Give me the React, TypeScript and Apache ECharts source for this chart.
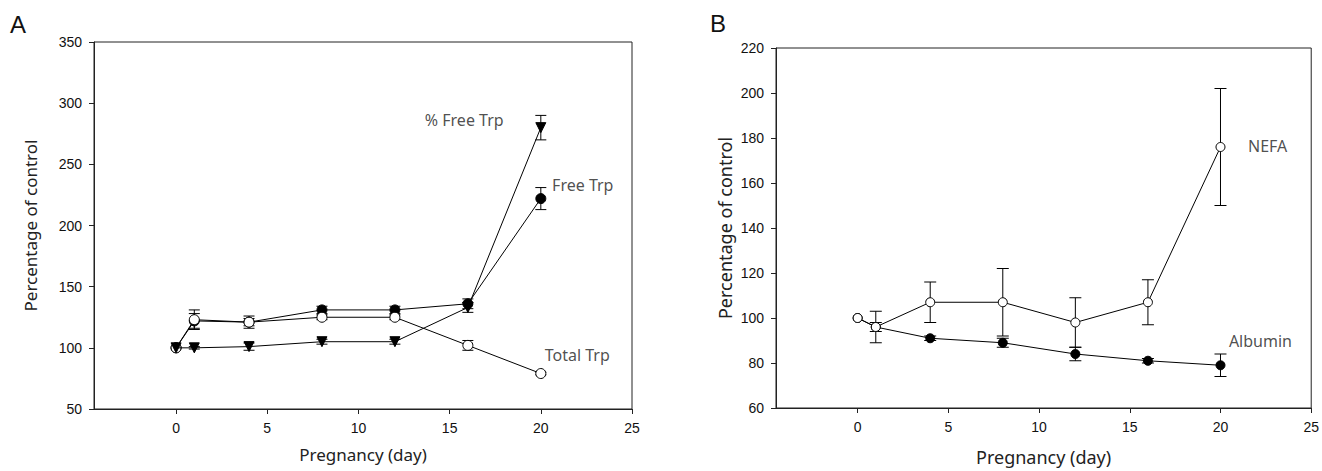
import React, { useEffect, useRef } from "react";
import * as echarts from "echarts";

// ---------- Panel A data ----------
const daysA = [0, 1, 4, 8, 12, 16, 20];
const freeTrp = [100, 122, 121, 131, 131, 136, 222];
const freeTrpErr = [0, 6, 3, 3, 3, 4, 9];
const totalTrp = [100, 123, 121, 125, 125, 102, 79];
const totalTrpErr = [0, 8, 5, 2, 2, 4, 1];
const pctFreeTrp = [100, 100, 101, 105, 105, 133, 280];
const pctFreeTrpErr = [0, 1, 3, 2, 2, 4, 10];

// ---------- Panel B data ----------
const daysB = [0, 1, 4, 8, 12, 16, 20];
const nefa = [100, 96, 107, 107, 98, 107, 176];
const nefaErr = [0, 7, 9, 15, 11, 10, 26];
const albumin = [100, 96, 91, 89, 84, 81, 79];
const albuminErr = [0, 2, 1, 2, 3, 1, 5];

// ---------- Axis ticks ----------
const xTicks = [0, 5, 10, 15, 20, 25];
const xMin = -4.5;
const xMax = 25;
const yA = { min: 50, max: 350, interval: 50 };
const yB = { min: 60, max: 220, interval: 20 };

// ---------- Annotations (data coords) ----------
const annotA = [
  { name: "% Free Trp", value: [15.8, 286] },
  { name: "Free Trp", value: [22.3, 233] },
  { name: "Total Trp", value: [22.0, 94] },
];
const annotB = [
  { name: "NEFA", value: [22.6, 176.6] },
  { name: "Albumin", value: [22.2, 89.6] },
];

const TICK_FONT = "'Liberation Sans', Arial, sans-serif";
const TEXT_FONT = "'Noto Sans', sans-serif";
const INK = "#111";

function pairs(xs: number[], ys: number[]) {
  return xs.map((x, i) => [x, ys[i]]);
}
function errData(xs: number[], ys: number[], es: number[]) {
  return xs
    .map((x, i) => [x, ys[i] - es[i], ys[i] + es[i]])
    .filter((d, i) => es[i] > 0);
}

function errSeries(data: number[][], gi: number, cap: number) {
  return {
    type: "custom",
    xAxisIndex: gi,
    yAxisIndex: gi,
    z: 1,
    silent: true,
    data,
    renderItem: (params: any, api: any) => {
      const x = api.value(0);
      const lo = api.coord([x, api.value(1)]);
      const hi = api.coord([x, api.value(2)]);
      const st = { stroke: "#000", lineWidth: 1 };
      return {
        type: "group",
        children: [
          { type: "line", shape: { x1: lo[0], y1: lo[1], x2: hi[0], y2: hi[1] }, style: st },
          { type: "line", shape: { x1: lo[0] - cap, y1: lo[1], x2: lo[0] + cap, y2: lo[1] }, style: st },
          { type: "line", shape: { x1: hi[0] - cap, y1: hi[1], x2: hi[0] + cap, y2: hi[1] }, style: st },
        ],
      };
    },
  };
}

function lineSeries(
  name: string,
  data: number[][],
  gi: number,
  symbol: string,
  size: number,
  filled: boolean,
  rotate = 0,
  z = 3
) {
  return {
    type: "line",
    name,
    xAxisIndex: gi,
    yAxisIndex: gi,
    data,
    z,
    symbol,
    symbolSize: size,
    symbolRotate: rotate,
    showAllSymbol: true,
    lineStyle: { color: "#000", width: 1 },
    itemStyle: { color: filled ? "#000" : "#fff", borderColor: "#000", borderWidth: 1 },
    silent: true,
  };
}

function annotSeries(data: any[], gi: number) {
  return {
    type: "scatter",
    xAxisIndex: gi,
    yAxisIndex: gi,
    data,
    symbol: "circle",
    symbolSize: 2,
    itemStyle: { color: "rgba(0,0,0,0)" },
    silent: true,
    z: 5,
    label: {
      show: true,
      position: "inside",
      formatter: (p: any) => p.name,
      fontFamily: TEXT_FONT,
      fontSize: 16,
      color: "#222",
      textBorderWidth: 0,
      textBorderColor: "transparent",
    },
  };
}

function xAxis(gi: number, nameGap: number, nameSize: number) {
  return {
    gridIndex: gi,
    type: "value",
    min: xMin,
    max: xMax,
    name: "Pregnancy (day)",
    nameLocation: "middle",
    nameGap,
    nameTextStyle: { fontFamily: TEXT_FONT, fontSize: nameSize, color: "#222" },
    axisLine: { show: true, onZero: false, lineStyle: { color: "#222", width: 1 } },
    axisTick: { show: true, customValues: xTicks, length: 5, lineStyle: { color: "#222", width: 1 } },
    axisLabel: { customValues: xTicks, margin: 12, fontFamily: TICK_FONT, fontSize: 14, color: INK },
    splitLine: { show: false },
  };
}

function yAxis(gi: number, r: { min: number; max: number; interval: number }, nameGap: number, nameSize: number) {
  return {
    gridIndex: gi,
    type: "value",
    min: r.min,
    max: r.max,
    interval: r.interval,
    name: "Percentage of control",
    nameLocation: "middle",
    nameGap,
    nameRotate: 90,
    nameTextStyle: { fontFamily: TEXT_FONT, fontSize: nameSize, color: "#222" },
    axisLine: { show: true, onZero: false, lineStyle: { color: "#222", width: 1 } },
    axisTick: { show: true, length: 5, lineStyle: { color: "#222", width: 1 } },
    axisLabel: { margin: 12, fontFamily: TICK_FONT, fontSize: 14, color: INK },
    splitLine: { show: false },
  };
}

export default function App() {
  const ref = useRef<HTMLDivElement>(null);
  useEffect(() => {
    document.body.style.margin = "0";
    if (!ref.current) return;
    const chart = echarts.init(ref.current, undefined, { renderer: "svg" });
    chart.setOption({
      animation: false,
      backgroundColor: "#fff",
      grid: [
        { left: 94, top: 42, width: 538, height: 367, show: true, borderColor: "#222", borderWidth: 1, backgroundColor: "transparent" },
        { left: 776, top: 48, width: 539, height: 364, show: true, borderColor: "#222", borderWidth: 1, backgroundColor: "transparent" },
      ],
      xAxis: [xAxis(0, 37, 17), xAxis(1, 40, 18)],
      yAxis: [yAxis(0, yA, 55, 17), yAxis(1, yB, 42, 18)],
      graphic: [
        { type: "text", left: 10, top: 12, style: { text: "A", fontFamily: TICK_FONT, fontSize: 24, fill: "#111" } },
        { type: "text", left: 710, top: 11, style: { text: "B", fontFamily: TICK_FONT, fontSize: 24, fill: "#111" } },
      ],
      series: [
        errSeries(errData(daysA, freeTrp, freeTrpErr), 0, 5.5),
        errSeries(errData(daysA, totalTrp, totalTrpErr), 0, 5.5),
        errSeries(errData(daysA, pctFreeTrp, pctFreeTrpErr), 0, 5.5),
        lineSeries("Free Trp", pairs(daysA, freeTrp), 0, "circle", 10, true, 0, 2),
        lineSeries("Total Trp", pairs(daysA, totalTrp), 0, "circle", 10, false, 0, 3),
        lineSeries("% Free Trp", pairs(daysA, pctFreeTrp), 0, "triangle", 10, true, 180, 4),
        annotSeries(annotA, 0),
        errSeries(errData(daysB, albumin, albuminErr), 1, 6),
        errSeries(errData(daysB, nefa, nefaErr), 1, 6),
        lineSeries("Albumin", pairs(daysB, albumin), 1, "circle", 9, true, 0, 3),
        lineSeries("NEFA", pairs(daysB, nefa), 1, "circle", 9, false, 0, 4),
        annotSeries(annotB, 1),
      ],
    });
    return () => chart.dispose();
  }, []);
  return <div ref={ref} style={{ width: 1322, height: 471 }} />;
}
